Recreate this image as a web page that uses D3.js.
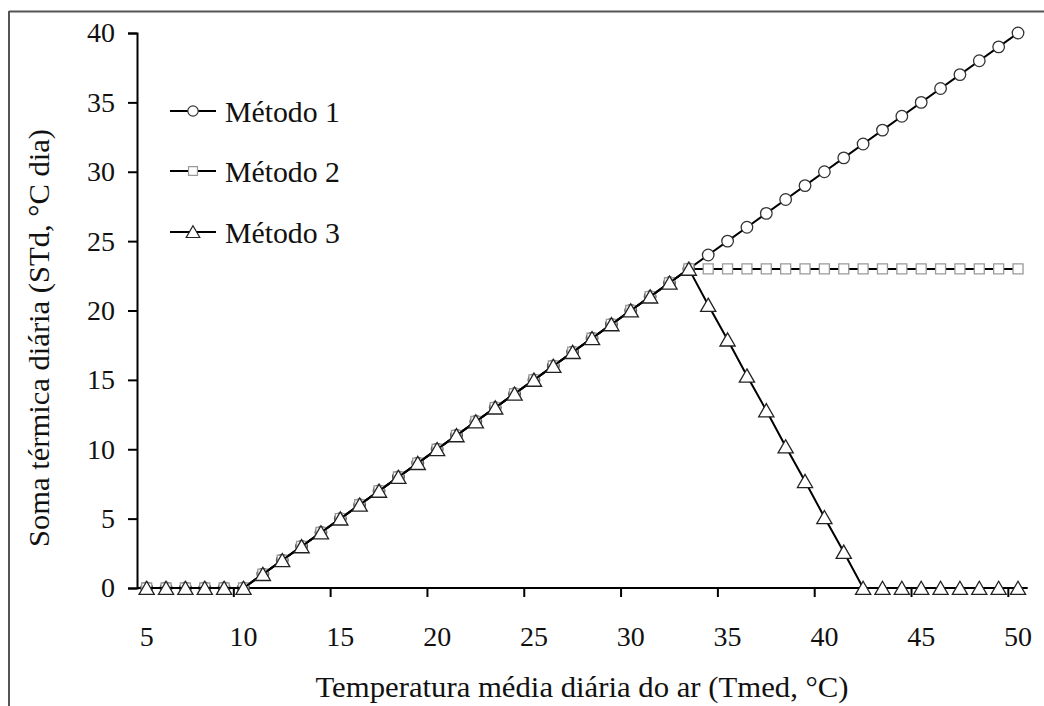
<!DOCTYPE html>
<html>
<head>
<meta charset="utf-8">
<script src="https://cdn.jsdelivr.net/npm/d3@7"></script>
<style>
  body { margin: 0; background: #fff; }
</style>
</head>
<body>
<svg width="1044" height="706"></svg>
<script>
// temperatures (°C), one point per degree
var temps = d3.range(5, 51);

var metodo1 = [0, 0, 0, 0, 0, 0, 1, 2, 3, 4, 5, 6, 7, 8, 9, 10, 11, 12, 13, 14, 15, 16, 17, 18, 19, 20, 21, 22, 23,
  24, 25, 26, 27, 28, 29, 30, 31, 32, 33, 34, 35, 36, 37, 38, 39, 40];
var metodo2 = [0, 0, 0, 0, 0, 0, 1, 2, 3, 4, 5, 6, 7, 8, 9, 10, 11, 12, 13, 14, 15, 16, 17, 18, 19, 20, 21, 22, 23,
  23, 23, 23, 23, 23, 23, 23, 23, 23, 23, 23, 23, 23, 23, 23, 23, 23];
var metodo3 = [0, 0, 0, 0, 0, 0, 1, 2, 3, 4, 5, 6, 7, 8, 9, 10, 11, 12, 13, 14, 15, 16, 17, 18, 19, 20, 21, 22, 23,
  20.4, 17.9, 15.3, 12.8, 10.2, 7.7, 5.1, 2.6, 0, 0, 0, 0, 0, 0, 0, 0, 0];

var seriesNames = ["Método 1", "Método 2", "Método 3"];
var xTicks = [5, 10, 15, 20, 25, 30, 35, 40, 45, 50];
var yTicks = [0, 5, 10, 15, 20, 25, 30, 35, 40];

var FONT = "Liberation Serif, Times New Roman, serif";
var svg = d3.select("svg");

// outer frame (only top and left edges visible)
svg.append("line").attr("x1", 9).attr("y1", 11.5).attr("x2", 1044).attr("y2", 11.5)
  .attr("stroke", "#555").attr("stroke-width", 2);
svg.append("line").attr("x1", 9).attr("y1", 11).attr("x2", 9).attr("y2", 706)
  .attr("stroke", "#555").attr("stroke-width", 2);

var x = d3.scaleLinear().domain([4.5, 50.5]).range([137, 1027.7]);
var y = d3.scaleLinear().domain([0, 40]).range([588, 33]);

// x axis: category style, tick marks between points
var xAxisG = svg.append("g").attr("transform", "translate(0," + y(0) + ")");
xAxisG.append("line").attr("x1", x(4.5)).attr("x2", x(50.5))
  .attr("stroke", "#000").attr("stroke-width", 2);
xAxisG.selectAll(".tk").data(xTicks.slice(1).map(function(d) { return d - 0.5; }))
  .enter().append("line")
  .attr("x1", function(d) { return x(d); }).attr("x2", function(d) { return x(d); })
  .attr("y1", 0).attr("y2", 9)
  .attr("stroke", "#000").attr("stroke-width", 2);
xAxisG.selectAll(".lb").data(xTicks).enter().append("text")
  .attr("x", function(d) { return x(d); })
  .attr("y", 58)
  .attr("text-anchor", "middle")
  .attr("font-family", FONT)
  .attr("font-size", 28)
  .attr("fill", "#111")
  .text(function(d) { return d; });

// y axis
var yAxis = d3.axisLeft(y).tickValues(yTicks).tickSize(9).tickPadding(13);
var yAxisG = svg.append("g").attr("transform", "translate(" + x(4.5) + ",0)").call(yAxis);
yAxisG.select(".domain").attr("stroke", "#000").attr("stroke-width", 2);
yAxisG.selectAll(".tick line").attr("stroke", "#000").attr("stroke-width", 2);
yAxisG.selectAll(".tick text")
  .attr("font-family", FONT).attr("font-size", 28).attr("fill", "#111");

// axis titles
svg.append("text")
  .attr("x", 582).attr("y", 697)
  .attr("text-anchor", "middle")
  .attr("font-family", FONT).attr("font-size", 29).attr("fill", "#111")
  .attr("textLength", 533).attr("lengthAdjust", "spacingAndGlyphs")
  .text("Temperatura média diária do ar (Tmed, °C)");
svg.append("text")
  .attr("transform", "translate(49,338) rotate(-90)")
  .attr("text-anchor", "middle")
  .attr("font-family", FONT).attr("font-size", 29).attr("fill", "#111")
  .attr("textLength", 418).attr("lengthAdjust", "spacingAndGlyphs")
  .text("Soma térmica diária (STd, °C dia)");

var line = d3.line()
  .x(function(d) { return x(d[0]); })
  .y(function(d) { return y(d[1]); });

var markerStyles = [
  { type: d3.symbolCircle, size: 105, stroke: "#333", dy: 0 },
  { type: d3.symbolSquare, size: 100, stroke: "#999", dy: 0 },
  { type: d3.symbolTriangle, size: 100, stroke: "#222", dy: 2 }
];

var allSeries = [metodo1, metodo2, metodo3];

allSeries.forEach(function(vals, i) {
  var pts = temps.map(function(t, j) { return [t, vals[j]]; });
  var ms = markerStyles[i];
  var g = svg.append("g");
  g.append("path").datum(pts)
    .attr("d", line)
    .attr("fill", "none")
    .attr("stroke", "#000")
    .attr("stroke-width", 2);
  g.selectAll("path.m").data(pts).enter().append("path")
    .attr("class", "m")
    .attr("transform", function(d) { return "translate(" + x(d[0]) + "," + (y(d[1]) + ms.dy) + ")"; })
    .attr("d", d3.symbol().type(ms.type).size(ms.size))
    .attr("fill", "#fff")
    .attr("stroke", ms.stroke)
    .attr("stroke-width", 1.3);
});

// legend
var legendY = [111, 171, 232];
var legend = svg.append("g");
seriesNames.forEach(function(name, i) {
  var ly = legendY[i];
  var ms = markerStyles[i];
  legend.append("line").attr("x1", 170).attr("x2", 216).attr("y1", ly).attr("y2", ly)
    .attr("stroke", "#000").attr("stroke-width", 2);
  legend.append("path")
    .attr("transform", "translate(193," + (ly + ms.dy * 0.8) + ")")
    .attr("d", d3.symbol().type(ms.type).size(ms.size * 0.8))
    .attr("fill", "#fff")
    .attr("stroke", ms.stroke)
    .attr("stroke-width", 1.2);
  legend.append("text")
    .attr("x", 225).attr("y", ly + 11)
    .attr("font-family", FONT).attr("font-size", 29).attr("fill", "#111")
    .attr("textLength", 115).attr("lengthAdjust", "spacingAndGlyphs")
    .text(name);
});
</script>
</body>
</html>
